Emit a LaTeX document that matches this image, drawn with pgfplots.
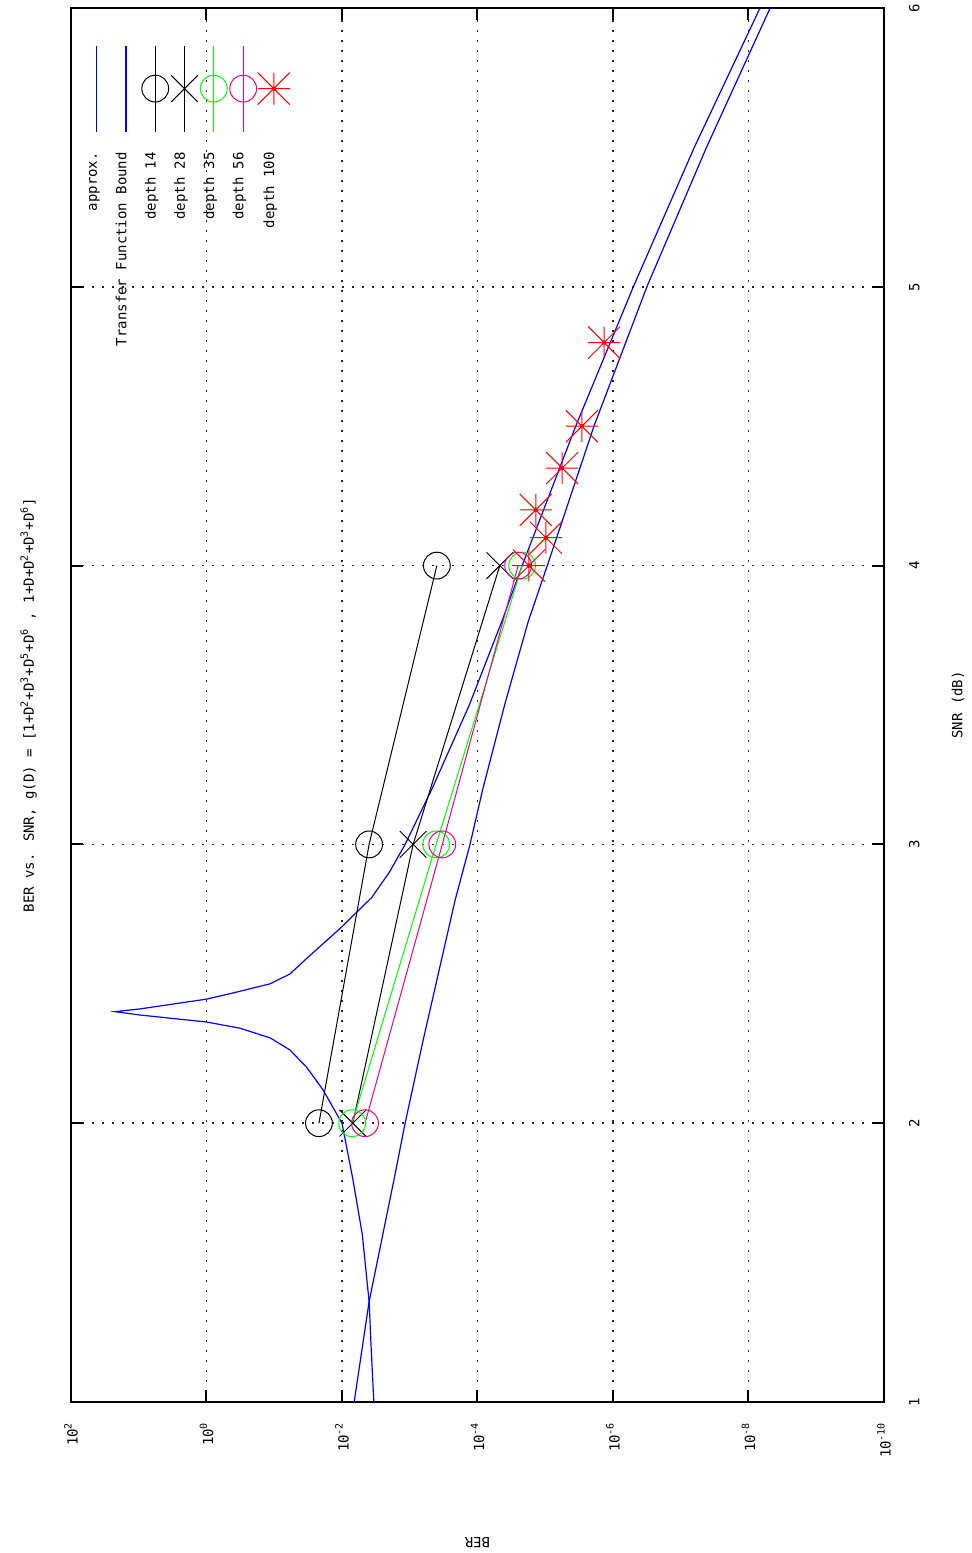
\documentclass[border=0pt]{standalone}
\usepackage{pgfplots}
\pgfplotsset{compat=1.18}
\usepackage{graphicx}
\usepackage{fontspec}
\setmainfont{DejaVu Sans Mono}
\pgfdeclareplotmark{gpstar}{%
  \pgfpathmoveto{\pgfqpoint{-\pgfplotmarksize}{0pt}}\pgfpathlineto{\pgfqpoint{\pgfplotmarksize}{0pt}}%
  \pgfpathmoveto{\pgfqpoint{0pt}{-\pgfplotmarksize}}\pgfpathlineto{\pgfqpoint{0pt}{\pgfplotmarksize}}%
  \pgfpathmoveto{\pgfqpoint{-\pgfplotmarksize}{-\pgfplotmarksize}}\pgfpathlineto{\pgfqpoint{\pgfplotmarksize}{\pgfplotmarksize}}%
  \pgfpathmoveto{\pgfqpoint{-\pgfplotmarksize}{\pgfplotmarksize}}\pgfpathlineto{\pgfqpoint{\pgfplotmarksize}{-\pgfplotmarksize}}%
  \pgfusepathqstroke
  \pgfpathcircle{\pgfpointorigin}{1.1pt}\pgfusepathqfill}
\pgfplotsset{layers/mylayers/.define layer set={axis background,axis grid,legendbg,axis ticks,axis lines,axis tick labels,pre main,main,axis descriptions,axis foreground}{}}
\begin{document}
\rotatebox{90}{%
\begin{tikzpicture}[font=\fontsize{7}{8.4}\selectfont]
\begin{axis}[
  set layers=mylayers,
  at={(0pt,0pt)}, anchor=south west,
  scale only axis, width=697pt, height=406.5pt,
  xmin=1, xmax=6, ymode=log, ymin=1e-10, ymax=1e2,
  xtick={1,2,3,4,5,6}, xticklabels={1,2,3,4,5,6},
  ytick={1e2,1e0,1e-2,1e-4,1e-6,1e-8,1e-10},
  yticklabels={10\textsuperscript{2},10\textsuperscript{0},10\textsuperscript{-2},10\textsuperscript{-4},10\textsuperscript{-6},10\textsuperscript{-8},10\textsuperscript{-10}},
  yminorticks=false, xminorticks=false,
  grid=major,
  major grid style={black!85, line width=0.75pt, dash pattern=on 0.75pt off 4.25pt},
  tick align=inside, major tick length=6pt,
  tick style={black, line width=1pt},
  axis line style={line width=1pt},
  xticklabel style={yshift=-9pt},
  yticklabel style={xshift=-6.5pt},
  title={BER vs. SNR, g(D) = [1+D\textsuperscript{2}+D\textsuperscript{3}+D\textsuperscript{5}+D\textsuperscript{6} , 1+D+D\textsuperscript{2}+D\textsuperscript{3}+D\textsuperscript{6}]},
  title style={at={(axis description cs:0.5,1)}, anchor=base, yshift=12.5pt},
  xlabel={SNR (dB)},
  xlabel style={at={(axis description cs:0.5,0)}, anchor=center, yshift=-37pt},
  ylabel={BER},
  ylabel style={at={(axis description cs:-0.1012,0.5)}, anchor=center},
  legend plot pos=right,
  legend cell align=right,
  legend image code/.code={\draw[mark repeat=2,mark phase=2,#1] plot coordinates {(0pt,0pt)(21.5pt,0pt)(43pt,0pt)};},
  legend style={at={(axis description cs:1,1)}, anchor=north east, xshift=-18.5pt, yshift=-5.5pt,
    draw=none, fill=none, inner sep=0pt, outer sep=0pt, row sep=0pt, column sep=10pt,
    nodes={inner sep=0pt, text height=7.5pt, text depth=7.15pt}},
]
\begin{pgfonlayer}{legendbg}
\fill[white] (rel axis cs:0.5825,0.731) rectangle (rel axis cs:1,1);
\end{pgfonlayer}
\addplot[blue, line width=0.6pt] coordinates {
(1.0,3.39e-3) (1.2,3.72e-3) (1.36,3.98e-3) (1.6,5.01e-3) (1.8,6.92e-3) (2.0,1.00e-2)
(2.12,1.91e-2) (2.2,3.31e-2) (2.263,5.89e-2) (2.306,0.115) (2.341,0.324) (2.363,1.0)
(2.388,9.55) (2.40,22.4) (2.41,9.55) (2.445,1.0) (2.467,0.407) (2.5,0.115) (2.535,5.89e-2)
(2.6,3.02e-2) (2.7,1.05e-2) (2.81,3.63e-3) (2.9,2.00e-3) (3.0,1.17e-3) (3.2,4.68e-4)
(3.5,1.32e-4) (3.8,4.37e-5) (4.0,2.19e-5) (4.5,3.55e-6) (5.0,5.01e-7) (5.5,6.31e-8) (6.0,6.76e-9)
};
\addlegendentry{approx.}
\addplot[blue, line width=0.6pt] coordinates {
(1.0,6.61e-3) (1.36,3.98e-3) (1.8,1.70e-3) (2.0,1.17e-3) (2.3,6.31e-4) (2.8,2.14e-4)
(3.0,1.29e-4) (3.2,8.32e-5) (3.5,3.98e-5) (3.8,1.78e-5) (4.0,9.33e-6) (4.5,1.91e-6)
(5.0,3.16e-7) (5.5,4.17e-8) (6.0,4.79e-9)
};
\addlegendentry{Transfer Function Bound}
\addplot[black, line width=0.5pt, mark=o, mark size=6.7pt] coordinates {(2,2.19e-2) (3,3.98e-3) (4,3.98e-4)};
\addlegendentry{depth 14}
\addplot[black, line width=0.5pt, mark=x, mark size=9.4pt] coordinates {(2,6.92e-3) (3,8.91e-4) (4,4.68e-5)};
\addlegendentry{depth 28}
\addplot[green, line width=0.5pt, mark=o, mark size=6.7pt] coordinates {(2,7.08e-3) (3,4.07e-4) (4,2.19e-5)};
\addlegendentry{depth 35}
\addplot[magenta, line width=0.5pt, mark=o, mark size=6.7pt] coordinates {(2,4.57e-3) (3,3.31e-4) (4,2.51e-5)};
\addlegendentry{depth 56}
\addplot[red, line width=0.5pt, only marks, mark=gpstar, mark size=8pt] coordinates {(4.0,1.74e-5) (4.1,9.77e-6) (4.2,1.38e-5) (4.35,5.62e-6) (4.5,2.88e-6) (4.8,1.35e-6)};
\addlegendentry{depth 100}
\end{axis}
\pgfresetboundingbox
\path[use as bounding box] (-75.5pt,-43.5pt) rectangle (701pt,442pt);
\end{tikzpicture}}
\end{document}
